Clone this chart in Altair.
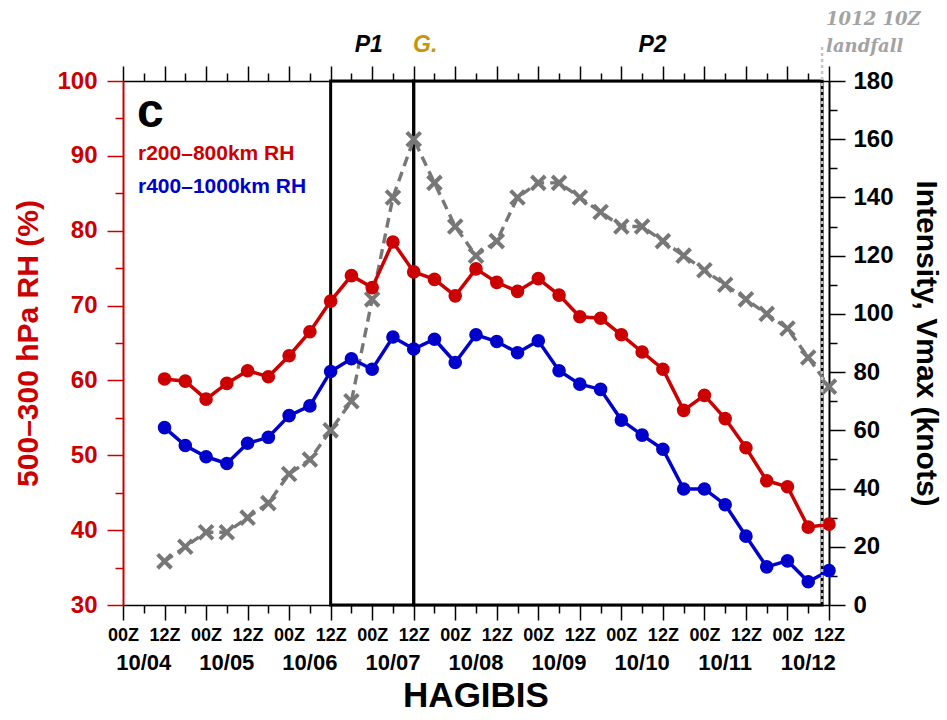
import altair as alt
import pandas as pd

# Analysis times: hours after 00Z 4 Oct, one value every 6 h (10/04 12Z .. 10/12 12Z)
HOURS = list(range(12, 205, 6))

# 500-300 hPa relative humidity (%) averaged over two annuli around the storm centre
RH_200_800 = [60.2, 59.9, 57.5, 59.6, 61.3, 60.5, 63.3, 66.5, 70.6, 74.0, 72.4,
              78.5, 74.5, 73.5, 71.3, 74.9, 73.1, 71.9, 73.6, 71.4, 68.5, 68.3,
              66.1, 63.8, 61.5, 56.0, 58.0, 54.9, 51.0, 46.6, 45.8, 40.4, 40.8]
RH_400_1000 = [53.7, 51.3, 49.8, 48.9, 51.6, 52.4, 55.3, 56.6, 61.2, 62.9, 61.5,
               65.8, 64.2, 65.5, 62.4, 66.1, 65.2, 63.7, 65.3, 61.3, 59.5, 58.8,
               54.7, 52.7, 50.8, 45.5, 45.5, 43.4, 39.2, 35.1, 35.9, 33.1, 34.6]

# Best-track maximum sustained wind (knots)
VMAX = [15, 20, 25, 25, 30, 35, 45, 50, 60, 70, 105, 140, 160, 145, 130, 120, 125,
        140, 145, 145, 140, 135, 130, 130, 125, 120, 115, 110, 105, 100, 95, 85, 75]

SERIES = ["r200\u2013800km RH", "r400\u20131000km RH"]
SERIES_COLORS = ["#cc0000", "#0000cc"]

# Axis ticks / labels
TIME_TICKS = list(range(0, 205, 6))
DAY_LABELS = ["10/04", "10/05", "10/06", "10/07", "10/08", "10/09", "10/10", "10/11", "10/12"]
DAY_HOURS = [6, 30, 54, 78, 102, 126, 150, 174, 198]
RH_TICKS = list(range(30, 101, 5))
VMAX_TICKS = list(range(0, 181, 10))

# Analysis periods (10/06 12Z - 10/07 12Z, 10/07 12Z - landfall) and landfall (hours)
PERIOD_START = [60, 84]
PERIOD_END = [84, 202]
PERIOD_NAMES = ["P1", "G.", "P2"]
PERIOD_LABEL_HOURS = [71, 87.3, 153]
PERIOD_LABEL_COLORS = ["black", "#c8960c", "black"]
LANDFALL_HOUR = 202

FONT = "Liberation Sans"
W, H = 706, 524

xscale = alt.Scale(domain=[0, 204], nice=False, zero=False)

rh = pd.DataFrame({
    "h": HOURS * 2,
    "rh": RH_200_800 + RH_400_1000,
    "series": [SERIES[0]] * len(HOURS) + [SERIES[1]] * len(HOURS),
})
vm = pd.DataFrame({"h": HOURS, "vmax": VMAX})
periods = pd.DataFrame({"start": PERIOD_START, "end": PERIOD_END})
days = pd.DataFrame({"h": DAY_HOURS, "label": DAY_LABELS})
plabels = pd.DataFrame({"h": PERIOD_LABEL_HOURS, "label": PERIOD_NAMES,
                        "c": PERIOD_LABEL_COLORS})
landfall = pd.DataFrame({"h": [LANDFALL_HOUR]})
one = pd.DataFrame({"k": [0]})


def minor_major(test, major, minor):
    return {"condition": {"test": test, "value": major}, "value": minor}


bottom_axis = alt.Axis(
    orient="bottom", values=TIME_TICKS, title=None, grid=False,
    labelExpr="datum.value % 24 === 0 ? '00Z' : (datum.value % 12 === 0 ? '12Z' : '')",
    tickSize=minor_major("datum.value % 12 === 0", 15, 8),
    tickWidth=1.5, tickColor="black", domainColor="black", domainWidth=1.5,
    labelFont=FONT, labelFontWeight="bold", labelFontSize=18, labelColor="black",
    labelPadding=6, labelOverlap=False, labelFlush=False, labelBound=False,
)
top_axis = alt.Axis(
    orient="top", values=TIME_TICKS, title=None, grid=False, labels=False,
    tickSize=minor_major("datum.value % 12 === 0", 15, 8),
    tickWidth=1.5, tickColor="black", domainColor="black", domainWidth=1.5,
)
left_axis = alt.Axis(
    orient="left", values=RH_TICKS, grid=False,
    title="500\u2013300 hPa RH (%)",
    labelExpr="datum.value % 10 === 0 ? datum.label : ''",
    tickSize=minor_major("datum.value % 10 === 0", 16, 8),
    tickWidth=1.5, tickColor="#cc0000", domainColor="#cc0000", domainWidth=2,
    labelFont=FONT, labelFontWeight="bold", labelFontSize=24, labelColor="#cc0000",
    labelPadding=10, labelOverlap=False, labelFlush=False, labelBound=False,
    titleFont=FONT, titleFontWeight="bold", titleFontSize=30, titleColor="#cc0000",
    titlePadding=13,
)
right_axis = alt.Axis(
    orient="right", values=VMAX_TICKS, grid=False,
    title="Intensity, Vmax (knots)",
    labelExpr="datum.value % 20 === 0 ? datum.label : ''",
    tickSize=minor_major("datum.value % 20 === 0", 16, 8),
    tickWidth=1.5, tickColor="black", domainColor="black", domainWidth=2,
    labelFont=FONT, labelFontWeight="bold", labelFontSize=24, labelColor="black",
    labelPadding=8, labelOverlap=False, labelFlush=False, labelBound=False,
    titleFont=FONT, titleFontWeight="bold", titleFontSize=30, titleColor="black",
    titlePadding=17,
)

x_none = alt.X("h:Q", scale=xscale, axis=None)

# P1 / P2 period boxes
boxes = alt.Chart(periods).mark_rect(
    fillOpacity=0, stroke="black", strokeWidth=3
).encode(
    x=alt.X("start:Q", scale=xscale, axis=None), x2="end:Q"
)

# Intensity (right axis), dashed grey with crosses
x_top = alt.X("h:Q", scale=xscale, axis=top_axis)
y_vmax = alt.Y("vmax:Q", scale=alt.Scale(domain=[0, 180], nice=False, zero=False),
               axis=right_axis)
vmax_line = alt.Chart(vm).mark_line(
    color="#777777", strokeWidth=3.4, strokeDash=[10, 6]
).encode(x=x_top, y=y_vmax)
vmax_pts = alt.Chart(vm).mark_point(
    shape="M-1,-1L1,1M-1,1L1,-1", filled=False, color="#777777",
    strokeWidth=4, size=190, opacity=1
).encode(x=x_top, y=y_vmax)
intensity = alt.layer(vmax_line, vmax_pts)

# Relative humidity (left axis)
x_bottom = alt.X("h:Q", scale=xscale, axis=bottom_axis)
y_rh = alt.Y("rh:Q", scale=alt.Scale(domain=[30, 100], nice=False, zero=False),
             axis=left_axis)
color = alt.Color("series:N", scale=alt.Scale(domain=SERIES, range=SERIES_COLORS),
                  legend=None)
rh_line = alt.Chart(rh).mark_line(strokeWidth=3.5).encode(
    x=x_bottom, y=y_rh, color=color, detail="series:N")
rh_pts = alt.Chart(rh).mark_circle(size=185, opacity=1).encode(
    x=x_bottom, y=y_rh, color=color)
humidity = alt.layer(rh_line, rh_pts)

# Landfall marker: dotted line reaching above the frame
landfall_rule = alt.Chart(landfall).mark_rule(
    color="#c4c4c4", strokeWidth=2.5, strokeDash=[3, 3]
).encode(x=x_none, y=alt.value(-34), y2=alt.value(H))

landfall_text = alt.layer(
    alt.Chart(landfall).mark_text(
        text="1012 10Z", font="DejaVu Serif", fontWeight="bold", fontStyle="italic",
        fontSize=18, color="#a3a3a3", align="left", baseline="alphabetic", dx=4
    ).encode(x=x_none, y=alt.value(-56)),
    alt.Chart(landfall).mark_text(
        text="landfall", font="DejaVu Serif", fontWeight="bold", fontStyle="italic",
        fontSize=18, color="#a3a3a3", align="left", baseline="alphabetic", dx=4
    ).encode(x=x_none, y=alt.value(-29)),
)

period_text = alt.Chart(plabels).mark_text(
    font=FONT, fontWeight="bold", fontStyle="italic", fontSize=23,
    align="center", baseline="alphabetic"
).encode(x=x_none, y=alt.value(-29), text="label:N",
         color=alt.Color("c:N", scale=None))

day_text = alt.Chart(days).mark_text(
    font=FONT, fontWeight="bold", fontSize=22, color="black",
    align="center", baseline="alphabetic"
).encode(x=x_none, y=alt.value(589), text="label:N")

panel_tag = alt.Chart(one).mark_text(
    text="c", font=FONT, fontWeight="bold", fontSize=48, color="black",
    align="left", baseline="alphabetic"
).encode(x=alt.value(14), y=alt.value(46))

legend_red = alt.Chart(one).mark_text(
    text=SERIES[0], font=FONT, fontWeight="bold", fontSize=21, color=SERIES_COLORS[0],
    align="left", baseline="alphabetic"
).encode(x=alt.value(15), y=alt.value(79))
legend_blue = alt.Chart(one).mark_text(
    text=SERIES[1], font=FONT, fontWeight="bold", fontSize=21, color=SERIES_COLORS[1],
    align="left", baseline="alphabetic"
).encode(x=alt.value(15), y=alt.value(112))

storm_name = alt.Chart(one).mark_text(
    text="HAGIBIS", font=FONT, fontWeight="bold", fontSize=35, color="black",
    align="center", baseline="alphabetic"
).encode(x=alt.value(W / 2), y=alt.value(626))

chart = alt.layer(
    boxes, intensity, humidity, landfall_rule, landfall_text, period_text,
    day_text, panel_tag, legend_red, legend_blue, storm_name
).resolve_scale(
    y="independent"
).resolve_axis(
    x="independent", y="independent"
).properties(
    width=W, height=H,
    autosize=alt.AutoSizeParams(type="none"),
    padding={"left": 123, "top": 81, "right": 118, "bottom": 115},
    background="white",
).configure_view(stroke=None)

chart.save("out.html", embed_options={"renderer": "svg", "actions": False})
